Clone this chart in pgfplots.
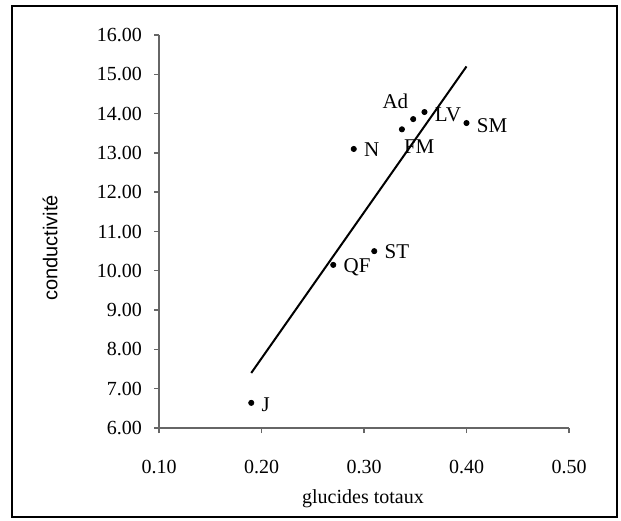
\documentclass[border=0pt]{standalone}
\usepackage{pgfplots}
\usepackage{pgfplotstable}
\pgfplotsset{compat=1.18}
\usepackage{fontspec}
\setmainfont{Liberation Serif}
\newfontfamily\arial{Liberation Sans}

% points: x, y, label, anchor angle, shifts (pt)
\pgfplotstableread{
x      y      lab  ang  dx  dy
0.190  6.64   J    180  5   -1
0.270  10.15  QF   180  5   -1
0.310  10.50  ST   180  5   -0.5
0.290  13.10  N    180  5   -0.5
0.337  13.60  FM   135  5   -5
0.348  13.86  Ad   -45  -5  5
0.359  14.04  LV   180  5   -1.5
0.400  13.76  SM   180  5   -1.5
}\pts

\begin{document}
\begin{tikzpicture}
\path[fill=white] (0,0) rectangle (310.5pt,260pt);
\draw[line width=0.6pt] (6pt,1.5pt) rectangle (308.5pt,257pt);
\begin{axis}[
    at={(79.5pt,46pt)}, anchor=south west,
    scale only axis,
    width=205pt, height=196.5pt,
    xmin=0.1, xmax=0.5, ymin=6, ymax=16,
    axis lines=left,
    axis line style={-, draw=black!60, line width=0.8pt},
    xtick={0.1,0.2,0.3,0.4,0.5},
    ytick={6,7,...,16},
    tick style={draw=black!60, line width=0.7pt},
    tick align=outside,
    major tick length=2.5pt,
    /pgf/number format/assume math mode=true,
    xticklabel={\pgfmathprintnumber[fixed,fixed zerofill,precision=2]{\tick}},
    yticklabel={\pgfmathprintnumber[fixed,fixed zerofill,precision=2]{\tick}},
    tick label style={font=\fontsize{10}{12}\selectfont},
    xticklabel style={yshift=-10pt},
    yticklabel style={xshift=-2.5pt},
    clip=false,
]
\addplot[black, line width=1pt] coordinates {(0.19,7.4) (0.40,15.2)};
\addplot[only marks, mark=*, mark size=1.3pt, black,
    point meta=explicit symbolic,
    nodes near coords,
    visualization depends on={\thisrow{ang} \as \ang},
    visualization depends on={\thisrow{dx} \as \dx},
    visualization depends on={\thisrow{dy} \as \dy},
    every node near coord/.append style={anchor=\ang, inner sep=0pt,
        xshift=\dx pt, yshift=\dy pt, font=\fontsize{10.5}{12}\selectfont},
] table[x=x, y=y, meta=lab] {\pts};
\end{axis}
\node[font=\fontsize{10}{12}\selectfont] at (181.5pt,10.5pt) {glucides totaux};
\node[rotate=90, font=\arial\fontsize{10}{12}\selectfont] at (25pt,136pt) {conductivité};
\end{tikzpicture}
\end{document}
